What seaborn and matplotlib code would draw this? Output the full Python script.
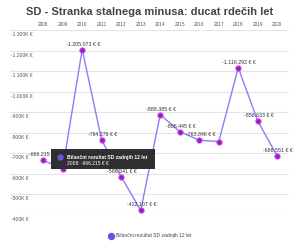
import numpy as np
import matplotlib
matplotlib.use("Agg")
import matplotlib.pyplot as plt
from matplotlib.lines import Line2D
from matplotlib.patches import Rectangle
from matplotlib.transforms import IdentityTransform, Affine2D
import seaborn as sns

sns.set_style("white")
plt.rcParams['font.family'] = ['Liberation Sans', 'DejaVu Sans']

title = "SD - Stranka stalnega minusa: ducat rdečih let"
series_name = "Bilančni rezultat SD zadnjih 12 let"
years = [2008, 2009, 2010, 2011, 2012, 2013, 2014, 2015, 2016, 2017, 2018, 2019, 2020]
values = [-666215, -625000, -1205073, -764276, -586541, -422107, -888385,
          -805445, -763846, -757000, -1116292, -856633, -686551]
hidden_labels = [2009, 2017]
yticks = [-1300000, -1200000, -1100000, -1000000, -900000, -800000,
          -700000, -600000, -500000, -400000]
tooltip_index = 0


def fmt_eur(v):
    return f"{v:,.0f}".replace(",", ".") + " € €"


def fmt_k(v):
    return f"{v / 1000:,.0f}".replace(",", ".") + "K €"


line_color = "#8c7ef2"
marker_face = "#8e24aa"
marker_edge = "#e040fb"
legend_color = "#6d4fe4"
W, H = 300, 244

fig = plt.figure(figsize=(W / 100, H / 100), dpi=100)
ax = fig.add_axes([10 / W, 1 - 215 / H, 279 / W, 185 / H])

sns.lineplot(x=years, y=values, ax=ax, color=line_color, lw=1.0,
             marker='o', markersize=3.8, markerfacecolor=marker_face,
             markeredgecolor=marker_edge, markeredgewidth=0.7, zorder=3)

ax.set_xlim(2006.3, 2020.6)
ax.set_ylim(-400000, -1300000)
ax.set_yticks(yticks)
ax.set_xticks(years)
ax.xaxis.tick_top()
ax.set_xticklabels([str(y) for y in years], fontsize=3.4, color="#555555")
ax.tick_params(axis='x', length=0, pad=2.0)
ax.tick_params(axis='y', left=False, labelleft=False, length=0)
ax.grid(axis='y', color="#e4e4e4", lw=0.8)
ax.grid(axis='x', visible=False)
for s in ax.spines.values():
    s.set_visible(False)
ax.set_xlabel("")
ax.set_ylabel("")

for t in yticks:
    ax.annotate(fmt_k(t), xy=(0, t), xycoords=('axes fraction', 'data'),
                xytext=(1, -2), textcoords='offset pixels', ha='left', va='top',
                fontsize=3.6, color="#555555")

for x, v in zip(years, values):
    if x in hidden_labels:
        continue
    ax.annotate(fmt_eur(v), xy=(x, v), xytext=(1, 3), textcoords='offset pixels',
                ha='center', va='bottom', fontsize=3.8, color="#333333", zorder=4)

# tooltip anchored at the hovered point
tx, tv = years[tooltip_index], values[tooltip_index]
px, py = ax.transData.transform((tx, tv))
box = Rectangle((px + 8, py - 9), 104, 20, transform=IdentityTransform(),
                fc="#2f2f2f", ec="none", zorder=5, clip_on=False)
ax.add_patch(box)
ax.set_xlim(2006.3, 2020.6)
ax.set_ylim(-400000, -1300000)
ax.annotate(series_name, xy=(tx, tv), xytext=(24, 3), textcoords='offset pixels',
            ha='left', va='center', fontsize=3.6, color="white", fontweight='bold',
            zorder=6, annotation_clip=False)
ax.annotate(f"{tx}: " + fmt_eur(tv), xy=(tx, tv), xytext=(24, -3),
            textcoords='offset pixels', ha='left', va='center', fontsize=3.6,
            color="white", zorder=6, annotation_clip=False)
ax.plot([tx], [tv], ls='none', marker='o', markersize=3.6, color=legend_color,
        transform=ax.transData + Affine2D().translate(17, 3),
        zorder=7, clip_on=False)

fig.text(0.5, 1 - 12 / H, title, ha='center', va='center', fontsize=8.0,
         fontweight='bold', color="#444444")

handle = Line2D([], [], ls='none', marker='o', markersize=4.3,
                markerfacecolor=legend_color, markeredgecolor=legend_color)
fig.legend([handle], [series_name], loc='center', bbox_to_anchor=(0.5, 1 - 236 / H),
           frameon=False, fontsize=3.6, handletextpad=0.6, handlelength=1,
           labelcolor="#444444")

fig.savefig("out.png", dpi=100)
